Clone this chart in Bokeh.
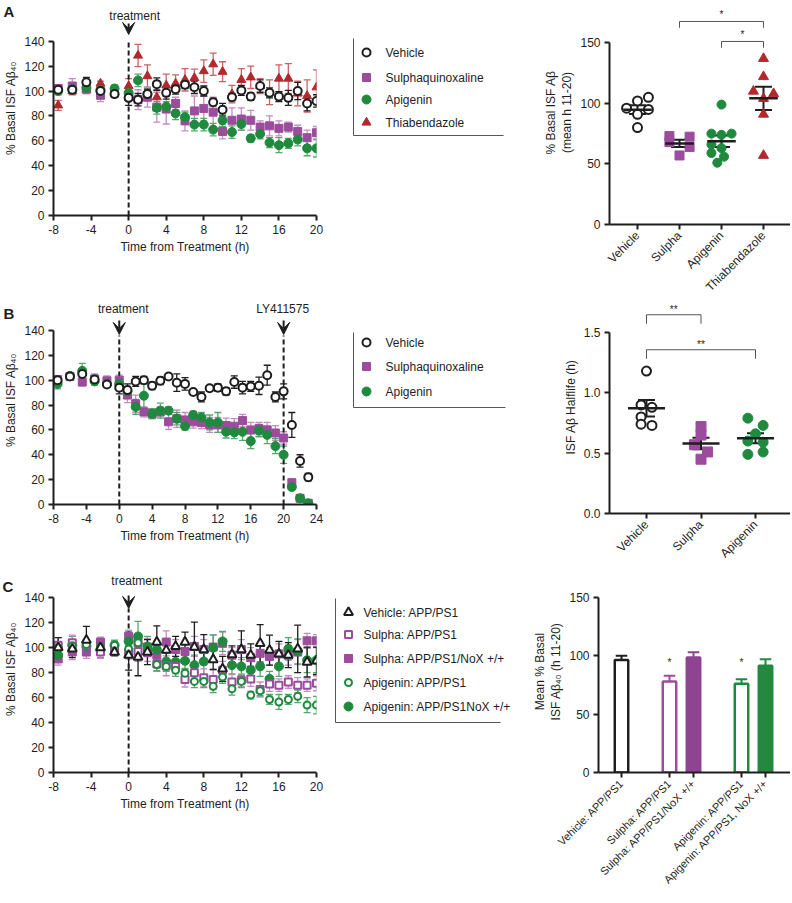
import numpy as np
from jinja2 import Template
from bokeh.plotting import figure
from bokeh.models import (Range1d, FixedTicker, Whisker, TeeHead, ColumnDataSource,
                          Label, Arrow, VeeHead, NumeralTickFormatter)
from bokeh.core.properties import value
from bokeh.embed import file_html
from bokeh.resources import INLINE

FONT = "Liberation Sans"
BLACK = "#1e1e1e"
PURPLE = "#9c4c9c"
PURPLE_ERR = "#c48cc4"
GREEN = "#1f8a3e"
GREEN_ERR = "#55a868"
RED = "#b3282d"
RED_ERR = "#cc6064"
PURPLE_BAR = "#8e4490"
GREEN_BAR = "#24883f"
BRACKET = "#555555"

# ---------------------------------------------------------------- data
TREATMENT_H = 0
LY411575_H = 20

# Panel A time course
time_A = [-7.5, -6, -4.5, -3, -1.5, 0, 1, 2, 3, 4, 5, 6, 7, 8, 9, 10,
          11, 12, 13, 14, 15, 16, 17, 18, 19, 20]
vehicle_A = [101, 101, 107, 100, 97.5, 94.5, 93, 97.5, 105.5, 98.5, 101.5, 105, 103,
             100, 91, 85, 95, 100.5, 95.5, 104, 98.5, 95.5, 94.5, 100, 90, 92]
vehicle_A_err = [2, 3, 4, 2, 2, 6, 5, 4, 5, 5, 4, 3, 5, 4, 3, 5, 3, 4, 3, 5, 4, 4, 6, 7, 6, 5]
sulpha_A = [102, 104, 101.5, 96.5, 98.5, 95.5, 93, 95, 87, 85.5, 90, 76, 84, 86, 83,
            67.5, 76.5, 77.5, 76.5, 71, 72, 70, 71, 67.5, 62.5, 66.5]
sulpha_A_err = [3, 6, 3, 5, 3, 4, 8, 8, 12, 12, 5, 8, 12, 10, 12, 6, 10, 9, 8, 5, 8, 6, 4, 5, 6, 5]
apigenin_A = [100, 101.5, 102.5, 101, 102, 98.5, 108.5, 97.5, 86.5, 87.5, 82, 79, 73,
              73, 69, 76.5, 67, 73.5, 62, 65.5, 58.5, 56.5, 58, 61, 54, 54]
apigenin_A_err = [3, 3, 3, 4, 3, 3, 5, 4, 5, 4, 5, 4, 5, 5, 5, 5, 5, 5, 3, 4, 4, 6, 4, 5, 6, 7]
thiabendazole_A = [88.5, 100, 101, 106, 99, 104, 128.5, 112, 95, 104.5, 106, 109, 110.5,
                   116, 121.5, 115.5, 97.5, 109, 111, 104, 99, 110, 110, 98, 96, 103]
thiabendazole_A_err = [4, 3, 3, 2, 3, 6, 9, 9, 6, 9, 7, 9, 7, 9, 9, 8, 7, 9, 9, 6,
                       10, 11, 12, 10, 13, 14]

# Panel A scatter (mean h 11-20)
dotA_categories = ["Vehicle", "Sulpha", "Apigenin", "Thiabendazole"]
dotA_vehicle = [96, 102, 105, 95, 91, 80]
dotA_sulpha = [73, 72.5, 68, 64, 57]
dotA_apigenin = [99, 75, 74, 75, 66, 63, 59, 56, 51]
dotA_thiabendazole = [137, 122, 110, 108, 104, 91, 57]
dotA_jitter = [[-0.26, 0, 0.26, 0.26, 0, 0],
               [-0.24, 0.24, -0.24, 0.24, 0],
               [0, -0.24, 0, 0.24, -0.24, 0, -0.24, 0.06, -0.1],
               [0, 0, -0.24, 0.24, 0, 0, 0]]
sigA = [(2, 4, 167.6, "*"), (3, 4, 151.1, "*")]

# Panel B time course
time_B = [-7.5, -6, -4.5, -3, -1.5, 0, 1, 2, 3, 4, 5, 6, 7, 8, 9, 10,
          11, 12, 13, 14, 15, 16, 17, 18, 19, 20, 21, 22, 23]
vehicle_B = [100, 103, 105, 100.5, 96.5, 94, 92, 99, 100, 95.5, 99.5, 103, 98, 97,
             90.5, 86.5, 93.5, 94, 91, 98.5, 94, 95, 95.5, 104, 86.5, 91, 64, 35, 22]
vehicle_B_err = [3, 2, 4, 2, 2, 5, 5, 4, 3, 3, 3, 2, 7, 5, 2, 4, 2, 3, 3, 5, 5, 4, 7, 8,
                 4, 6, 10, 5, 3]
sulpha_B = [100.5, 103, 98.5, 101, 99.5, 100, 88, 81, 74.5, 73, 74.5, 66.5, 69, 68,
            66.5, 66, 64, 64, 63.5, 63, 67.5, 60, 61, 60, 57.5, 53.5, 17.5, 5, 1]
sulpha_B_err = [3, 2, 3, 4, 4, 4, 6, 7, 4, 4, 4, 6, 7, 6, 5, 5, 6, 6, 6, 6, 5, 6, 5, 6,
                6, 5, 3, 2, 1]
apigenin_B = [97, 103.5, 107.5, 99, 97, 97, 91, 78.5, 87.5, 73, 75.5, 75.5, 69, 63, 72,
              70, 66, 66, 58.5, 58, 58.5, 51, 59.5, 56, 47, 40, 14, 5, 1]
apigenin_B_err = [4, 2, 6, 3, 2, 2, 4, 6, 10, 4, 6, 3, 5, 3, 3, 4, 6, 8, 5, 5, 7, 6, 5,
                  7, 6, 7, 2, 2, 1]

# Panel B scatter (half-life)
dotB_categories = ["Vehicle", "Sulpha", "Apigenin"]
dotB_vehicle = [1.18, 0.90, 0.88, 0.80, 0.74, 0.73]
dotB_sulpha = [0.72, 0.65, 0.57, 0.51, 0.45]
dotB_apigenin = [0.79, 0.73, 0.66, 0.60, 0.59, 0.49, 0.51]
dotB_jitter = [[0, -0.1, 0.1, -0.1, -0.1, 0.1],
               [0, 0, -0.12, 0.12, 0],
               [-0.14, 0.14, 0, -0.14, 0.14, -0.14, 0.14]]
sigB = [(1, 2, 1.647, "**"), (1, 3, 1.357, "**")]

# Panel C time course
time_C = time_A
vehicle_C = [100, 99, 106, 100, 96.5, 94, 92.5, 96.5, 104.5, 98, 101, 104.5, 100.5, 98.5,
             90.5, 83, 94.5, 98.5, 94, 103.5, 98, 95, 94, 99, 88.5, 89.5]
vehicle_C_err = [8, 7, 11, 6, 3, 12, 15, 10, 13, 9, 8, 8, 20, 12, 8, 10, 7, 15, 9, 15,
                 12, 10, 10, 19, 12, 11]
sulpha_C = [102, 104, 101.5, 96.5, 99, 96, 97, 96, 87, 85.5, 85, 74.5, 80, 76, 74.5, 82,
            72.5, 74, 75, 66.5, 71, 70, 72.5, 70, 70, 71.5]
sulpha_C_err = [6, 6, 4, 5, 3, 5, 8, 7, 6, 8, 6, 6, 6, 7, 8, 7, 6, 5, 6, 6, 6, 5, 5, 6, 5, 6]
sulpha_nox_C = [91, 96.5, 96.5, 104.5, 100, 109, 104, 100.5, 94, 104.5, 98.5, 97, 101,
                98.5, 100.5, 103.5, 94, 98.5, 92, 95.5, 93, 95, 94, 96.5, 105.5, 105.5]
sulpha_nox_C_err = [5, 6, 5, 4, 3, 5, 6, 7, 10, 9, 8, 7, 8, 8, 10, 9, 6, 8, 8, 8, 7, 8,
                    8, 10, 6, 5]
apigenin_C = [100, 101.5, 102.5, 101, 102, 99, 104, 98, 86.5, 85, 82, 79.5, 73, 73, 69,
              76.5, 67, 73, 62, 65.5, 58.5, 56.5, 58.5, 61, 54, 54]
apigenin_C_err = [3, 3, 3, 4, 3, 3, 5, 4, 5, 4, 5, 4, 5, 5, 5, 5, 5, 5, 3, 4, 4, 6, 4, 5, 6, 7]
apigenin_nox_C = [94, 102, 101, 98, 102, 105, 109, 101, 98.5, 89, 88.5, 89.5, 86, 89, 100,
                  105, 86, 85, 82, 85, 75, 85, 99, 97, 90, 90]
apigenin_nox_C_err = [5, 7, 5, 6, 4, 8, 12, 8, 7, 7, 8, 7, 8, 12, 10, 8, 7, 7, 7, 8, 6, 8,
                      9, 10, 10, 10]

# Panel C bars
bar_labels = ["Vehicle: APP/PS1", "Sulpha: APP/PS1", "Sulpha: APP/PS1/NoX +/+",
              "Apigenin: APP/PS1", "Apigenin: APP/PS1, NoX +/+"]
bar_values = [96.5, 78, 98.5, 76, 91.5]
bar_err = [3.5, 5, 4.5, 4, 5.5]
bar_sig = ["", "*", "", "*", ""]
bar_pos = [0, 2, 3, 5, 6]
BAR_STAR_Y = 94

# ---------------------------------------------------------------- page geometry (px)
PAGE_W, PAGE_H = 792, 903
W_TS = 330
TS_LEFT, TS_RIGHT = 53, 14
RIGHT_EDGE = 790          # right end of the right-hand panels' x axes


def style_axis(ax, label_size="12px"):
    ax.axis_line_color = BLACK
    ax.axis_line_width = 2
    ax.major_tick_line_color = BLACK
    ax.major_tick_line_width = 2
    ax.major_tick_out = 5
    ax.major_tick_in = 0
    ax.minor_tick_line_color = None
    ax.major_label_text_font = FONT
    ax.major_label_text_font_size = label_size
    ax.major_label_text_color = BLACK
    ax.major_label_standoff = 4
    ax.axis_label_text_font = FONT
    ax.axis_label_text_font_size = "12px"
    ax.axis_label_text_font_style = "normal"
    ax.axis_label_text_color = BLACK
    ax.axis_label_standoff = 3


def clean(p):
    p.outline_line_color = None
    p.xgrid.visible = False
    p.ygrid.visible = False
    p.background_fill_color = None
    p.border_fill_color = None
    for ax in p.axis:
        style_axis(ax)
    return p


def ts_series(p, t, y, err, marker, color, fill, size, err_color):
    lo = [a - e for a, e in zip(y, err)]
    hi = [a + e for a, e in zip(y, err)]
    src = ColumnDataSource(dict(x=t, lo=lo, hi=hi))
    p.add_layout(Whisker(source=src, base="x", lower="lo", upper="hi", dimension="height",
                         level="underlay", line_color=err_color, line_width=1.3,
                         upper_head=TeeHead(size=7, line_color=err_color, line_width=1.3),
                         lower_head=TeeHead(size=7, line_color=err_color, line_width=1.3)))
    p.scatter(t, y, marker=marker, size=size, fill_color=fill, line_color=color,
              line_width=2 if fill == "white" else 1)


def ts_panel(top, zero_y, axis_px, x_start, x_end, xticks, events, dash_top_y):
    bottom = 50
    frame_h = zero_y - top
    height = int(round(frame_h)) + bottom
    y_end = frame_h * 140.0 / axis_px
    p = clean(figure(width=W_TS, height=height,
                     x_range=Range1d(x_start, x_end), y_range=Range1d(0, y_end),
                     output_backend="svg", toolbar_location=None,
                     min_border_left=TS_LEFT, min_border_right=TS_RIGHT,
                     min_border_bottom=bottom, min_border_top=0))

    def y_px(py):
        return y_end - (py - top) * y_end / frame_h

    p.xaxis.ticker = FixedTicker(ticks=xticks)
    p.xaxis.major_label_overrides = {t: str(t) for t in xticks}
    p.yaxis.ticker = FixedTicker(ticks=[0, 20, 40, 60, 80, 100, 120, 140])
    p.yaxis.bounds = (0, 140)
    p.xaxis.axis_label = "Time from Treatment (h)"
    p.yaxis.axis_label = "% Basal ISF A\u03b2\u2084\u2080"
    for (hx, text, text_y, offset, a0, a1) in events:
        p.add_layout(Label(x=hx, y=y_px(text_y), text=text, text_font=FONT,
                           text_font_size="12px", text_color=BLACK, text_align="center",
                           text_baseline="middle", x_offset=offset))
        p.add_layout(Arrow(x_start=hx, y_start=y_px(a0), x_end=hx, y_end=y_px(a1),
                           line_color=BLACK, line_width=2,
                           end=VeeHead(size=12, fill_color=BLACK, line_color=BLACK)))
        p.segment(x0=[hx], y0=[0], x1=[hx], y1=[y_px(dash_top_y)], line_color=BLACK,
                  line_width=2, line_dash="5 3")
    return p


def right_figure(frame_w, frame_h, x_start, x_end, y_end):
    return clean(figure(frame_width=int(frame_w), frame_height=int(frame_h),
                        x_range=Range1d(x_start, x_end), y_range=Range1d(0, y_end),
                        output_backend="svg", toolbar_location=None,
                        min_border_left=0, min_border_right=0,
                        min_border_bottom=0, min_border_top=0))


def dot_panel(top, zero_y, axis_px, axis_max, cat_px, first_cat_x, axis_x,
              categories, groups, jitters, styles, half_w, sig, drop, star_off, ticks,
              fmt=None):
    frame_h = zero_y - top
    frame_w = RIGHT_EDGE - axis_x
    y_end = axis_max * frame_h / axis_px
    x_start = 1 - (first_cat_x - axis_x) / cat_px
    x_end = x_start + frame_w / cat_px
    p = right_figure(frame_w, frame_h, x_start, x_end, y_end)
    xs_c = list(range(1, len(categories) + 1))
    p.xaxis.ticker = FixedTicker(ticks=xs_c)
    p.xaxis.major_label_overrides = {i: c for i, c in zip(xs_c, categories)}
    p.xaxis.major_label_orientation = np.pi / 4
    p.yaxis.ticker = FixedTicker(ticks=ticks)
    p.yaxis.bounds = (0, axis_max)
    if fmt:
        p.yaxis.formatter = NumeralTickFormatter(format=fmt)
    for cx, vals, jit, (mk, col, fill, sz) in zip(xs_c, groups, jitters, styles):
        xs = [cx + j for j in jit]
        p.scatter(xs, vals, marker=mk, size=sz, fill_color=fill, line_color=col,
                  line_width=2 if fill == "white" else 1)
    means = np.array([np.mean(v) for v in groups])
    sems = np.array([np.std(v, ddof=1) / np.sqrt(len(v)) for v in groups])
    xc = np.array(xs_c, dtype=float)
    p.segment(x0=xc - half_w, x1=xc + half_w, y0=means, y1=means, line_color=BLACK,
              line_width=2.5)
    src = ColumnDataSource(dict(x=xc, lo=means - sems, hi=means + sems))
    p.add_layout(Whisker(source=src, base="x", lower="lo", upper="hi", dimension="height",
                         line_color=BLACK, line_width=2,
                         upper_head=TeeHead(size=17, line_color=BLACK, line_width=2),
                         lower_head=TeeHead(size=17, line_color=BLACK, line_width=2)))
    for (a, b, yb, s) in sig:
        p.multi_line(xs=[[a, a, b, b]], ys=[[yb - drop, yb, yb, yb - drop]],
                     line_color=BRACKET, line_width=1)
        p.text(x=[(a + b) / 2], y=[yb + star_off], text=[s], text_align="center",
               text_baseline="middle", text_font=value(FONT), text_font_size="10px",
               text_color=BLACK)
    return p


# ---------------------------------------------------------------- annotation layer
annot = figure(width=PAGE_W, height=PAGE_H, x_range=Range1d(0, PAGE_W),
               y_range=Range1d(PAGE_H, 0), x_axis_type=None, y_axis_type=None,
               output_backend="svg", toolbar_location=None, min_border=0)
annot.outline_line_color = None
annot.background_fill_color = None
annot.border_fill_color = None
annot.text(x=[3, 3, 2], y=[2, 304, 577], text=["A", "B", "C"], text_align="left",
           text_baseline="top", text_font=value(FONT), text_font_size="15px",
           text_font_style="bold", text_color=BLACK)


def legend_block(box_left, box_top, box_bottom, box_right, rows_y, marker_x, text_x, entries):
    annot.segment(x0=[box_left, box_left], y0=[box_top, box_bottom],
                  x1=[box_left, box_right], y1=[box_bottom, box_bottom],
                  line_color=BRACKET, line_width=1)
    for y, (name, mk, col, fill, sz) in zip(rows_y, entries):
        annot.scatter([marker_x], [y], marker=mk, size=sz, fill_color=fill, line_color=col,
                      line_width=2 if fill == "white" else 1)
        annot.text(x=[text_x], y=[y], text=[name], text_baseline="middle", text_align="left",
                   text_font=value(FONT), text_font_size="12px", text_color=BLACK)


S_VEH = ("circle", BLACK, "white", 8)
S_SUL = ("square", PURPLE, PURPLE, 8)
S_API = ("circle", GREEN, GREEN, 9)
S_THI = ("triangle", RED, RED, 9)

legend_block(353, 38, 135, 503, [52, 77, 99, 122], 366, 385,
             [("Vehicle",) + S_VEH, ("Sulphaquinoxaline",) + S_SUL,
              ("Apigenin",) + S_API, ("Thiabendazole",) + S_THI])
legend_block(353, 332, 407, 505, [342, 366, 391], 366, 385,
             [("Vehicle",) + S_VEH, ("Sulphaquinoxaline",) + S_SUL,
              ("Apigenin",) + S_API])
legend_block(335, 598, 722, 500, [612, 634, 658, 682, 706], 348, 363,
             [("Vehicle: APP/PS1", "triangle", BLACK, "white", 9),
              ("Sulpha: APP/PS1", "square", PURPLE, "white", 7),
              ("Sulpha: APP/PS1/NoX +/+", "square", PURPLE, PURPLE, 8),
              ("Apigenin: APP/PS1", "circle", GREEN, "white", 7),
              ("Apigenin: APP/PS1NoX +/+", "circle", GREEN, GREEN, 9)])

# ---------------------------------------------------------------- Row A
TOP_A = 0
pA = ts_panel(TOP_A, 215, 174.3, -8, 20, [-8, -4, 0, 4, 8, 12, 16, 20],
              [(TREATMENT_H, "treatment", 15, 6, 23, 34)], 41)
ts_series(pA, time_A, thiabendazole_A, thiabendazole_A_err, "triangle", RED, RED, 9, RED_ERR)
ts_series(pA, time_A, sulpha_A, sulpha_A_err, "square", PURPLE, PURPLE, 8, PURPLE_ERR)
ts_series(pA, time_A, apigenin_A, apigenin_A_err, "circle", GREEN, GREEN, 9, GREEN_ERR)
ts_series(pA, time_A, vehicle_A, vehicle_A_err, "circle", BLACK, "white", 8, BLACK)

DOT_A_TOP = 0
pdA = dot_panel(DOT_A_TOP, 224, 181.7, 150, 42, 637, 609, dotA_categories,
                [dotA_vehicle, dotA_sulpha, dotA_apigenin, dotA_thiabendazole], dotA_jitter,
                [("circle", BLACK, "white", 9), ("square", PURPLE, PURPLE, 9),
                 ("circle", GREEN, GREEN, 9), ("triangle", RED, RED, 10)],
                0.34, sigA, 5.2, 6.0, [0, 50, 100, 150])
pdA.yaxis.axis_label = "% Basal ISF A\u03b2\n(mean h 11-20)"

# ---------------------------------------------------------------- Row B
TOP_B = 295
pB = ts_panel(TOP_B, 504.3, 174.3, -8, 24, [-8, -4, 0, 4, 8, 12, 16, 20, 24],
              [(TREATMENT_H, "treatment", 309, 4, 320, 334),
               (LY411575_H, "LY411575", 309, -1, 320, 334)], 335)
ts_series(pB, time_B, sulpha_B, sulpha_B_err, "square", PURPLE, PURPLE, 8, PURPLE_ERR)
ts_series(pB, time_B, apigenin_B, apigenin_B_err, "circle", GREEN, GREEN, 9, GREEN_ERR)
ts_series(pB, time_B, vehicle_B, vehicle_B_err, "circle", BLACK, "white", 8, BLACK)

DOT_B_TOP = 300
pdB = dot_panel(DOT_B_TOP, 513, 181, 1.5, 54.5, 646, 609, dotB_categories,
                [dotB_vehicle, dotB_sulpha, dotB_apigenin], dotB_jitter,
                [("circle", BLACK, "white", 9), ("square", PURPLE, PURPLE, 10),
                 ("circle", GREEN, GREEN, 10)],
                0.34, sigB, 0.075, 0.045, [0, 0.5, 1.0, 1.5], fmt="0.0")
pdB.yaxis.axis_label = "ISF A\u03b2 Halflife (h)"

# ---------------------------------------------------------------- Row C
TOP_C = 565
pC = ts_panel(TOP_C, 772.3, 175, -8, 20, [-8, -4, 0, 4, 8, 12, 16, 20],
              [(TREATMENT_H, "treatment", 581, 8, 595, 608)], 608)
ts_series(pC, time_C, sulpha_nox_C, sulpha_nox_C_err, "square", PURPLE, PURPLE, 8, PURPLE_ERR)
ts_series(pC, time_C, apigenin_nox_C, apigenin_nox_C_err, "circle", GREEN, GREEN, 9, GREEN_ERR)
ts_series(pC, time_C, sulpha_C, sulpha_C_err, "square", PURPLE, "white", 7, PURPLE_ERR)
ts_series(pC, time_C, apigenin_C, apigenin_C_err, "circle", GREEN, "white", 7, GREEN_ERR)
ts_series(pC, time_C, vehicle_C, vehicle_C_err, "triangle", BLACK, "white", 9, BLACK)

# bar chart
BAR_TOP, BAR_ZERO = 570, 772
bar_axis_x = 598
bar_unit = 24
bar_frame_w = RIGHT_EDGE - bar_axis_x
bx0 = -(621 - bar_axis_x) / bar_unit
bx1 = bx0 + bar_frame_w / bar_unit
pbar = right_figure(bar_frame_w, BAR_ZERO - BAR_TOP, bx0, bx1,
                    150 * (BAR_ZERO - BAR_TOP) / 175)
bar_line = [BLACK, PURPLE, PURPLE_BAR, GREEN, GREEN_BAR]
bar_fill = ["white", "white", PURPLE_BAR, "white", GREEN_BAR]
pos = np.array(bar_pos, dtype=float)
tops = np.array(bar_values)
his = tops + np.array(bar_err)
pbar.segment(x0=pos, y0=tops, x1=pos, y1=his, line_color=bar_line, line_width=2)
pbar.segment(x0=pos - 0.24, y0=his, x1=pos + 0.24, y1=his, line_color=bar_line, line_width=2)
pbar.vbar(x=pos, top=tops, width=0.56, fill_color=bar_fill, line_color=bar_line,
          line_width=2.5)
pbar.text(x=pos, y=[BAR_STAR_Y] * len(pos), text=bar_sig, text_align="center",
          text_baseline="middle", text_font=value(FONT), text_font_size="10px",
          text_color=BLACK)
pbar.xaxis.ticker = FixedTicker(ticks=bar_pos)
pbar.xaxis.major_label_overrides = {p_: l for p_, l in zip(bar_pos, bar_labels)}
pbar.xaxis.major_label_orientation = np.pi / 4
pbar.xaxis.major_label_text_font_size = "11px"
pbar.yaxis.ticker = FixedTicker(ticks=[0, 50, 100, 150])
pbar.yaxis.bounds = (0, 150)
pbar.yaxis.axis_label = "Mean % Basal\nISF A\u03b2\u2084\u2080 (h 11-20)"

# ---------------------------------------------------------------- page
R = PAGE_W - RIGHT_EDGE
models = [annot, pA, pdA, pB, pdB, pC, pbar]
places = ["left:0px;top:0px", f"left:0px;top:{TOP_A}px", f"right:{R}px;top:{DOT_A_TOP}px",
          f"left:0px;top:{TOP_B}px", f"right:{R}px;top:{DOT_B_TOP}px",
          f"left:0px;top:{TOP_C}px", f"right:{R}px;top:{BAR_TOP}px"]

PAGE = Template("""{% from macros import embed %}
<!DOCTYPE html>
<html lang="en">
<head>
<meta charset="utf-8">
<title>Figure</title>
<style>
html, body { margin: 0; padding: 0; background: white; width: 792px; height: 903px; overflow: hidden; }
.cell { position: absolute; }
</style>
{{ bokeh_css if bokeh_css }}
{{ bokeh_js if bokeh_js }}
</head>
<body>
{% for root in doc.roots %}
<div class="cell" style="{{ places[loop.index0] }}">{{ embed(root) }}</div>
{% endfor %}
{{ plot_script }}
</body>
</html>
""")

with open("out.html", "w") as fh:
    fh.write(file_html(models, INLINE, template=PAGE,
                       template_variables={"places": places}))
